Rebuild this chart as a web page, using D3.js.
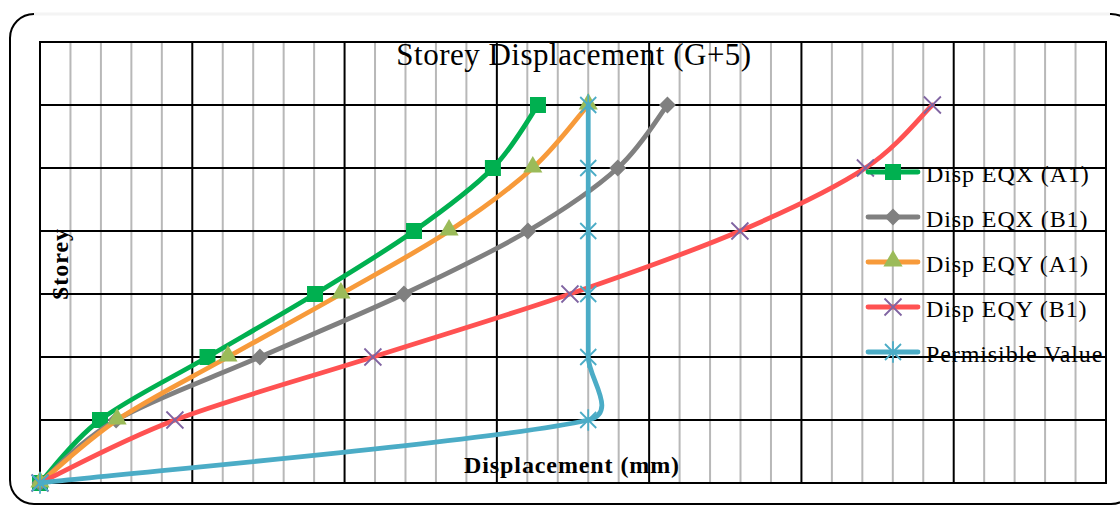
<!DOCTYPE html>
<html>
<head>
<meta charset="utf-8">
<script src="https://cdn.jsdelivr.net/npm/d3@7"></script>
<style>
  body { margin: 0; background: #fff; }
  svg { display: block; }
</style>
</head>
<body>
<div id="chart"></div>
<script>
// values (mm)
const storeys = [0, 1, 2, 3, 4, 5, 6];
const dispEqxA1 = [0, 1.97, 5.5, 9.03, 12.28, 14.87, 16.35];
const dispEqxB1 = [0, 2.5, 7.22, 11.95, 16.02, 18.97, 20.6];
const dispEqyA1 = [0, 2.53, 6.17, 9.88, 13.43, 16.18, 18.0];
const dispEqyB1 = [0, 4.43, 10.93, 17.4, 22.98, 27.1, 29.3];
const permissible = [0, 18, 18, 18, 18, 18, 18];
const seriesNames = ["Disp EQX (A1)", "Disp EQX (B1)", "Disp EQY (A1)", "Disp EQY (B1)", "Permisible Value"];
const majorTicks = [0, 5, 10, 15, 20, 25, 30, 35];
const minorTicks = [1, 2, 3, 4, 6, 7, 8, 9, 11, 12, 13, 14, 16, 17, 18, 19, 21, 22, 23, 24, 26, 27, 28, 29, 31, 32, 33, 34];
const storeyTicks = [0, 1, 2, 3, 4, 5, 6, 7];

const width = 1120, height = 505;
const margin = { top: 42, right: 14, bottom: 22, left: 40 };

const svg = d3.select("#chart").append("svg")
    .attr("width", width)
    .attr("height", height);

// outer rounded frame (top edge is very faint in the original)
svg.append("rect")
    .attr("x", 10).attr("y", 14)
    .attr("width", 1125).attr("height", 490)
    .attr("rx", 24)
    .attr("fill", "none")
    .attr("stroke", "#000")
    .attr("stroke-width", 2);
svg.append("line")
    .attr("x1", 34).attr("x2", 1110).attr("y1", 14).attr("y2", 14)
    .attr("stroke", "#f4f4f4").attr("stroke-width", 3);

const x = d3.scaleLinear().domain([0, 35]).range([margin.left, width - margin.right]);
const y = d3.scaleLinear().domain([0, 7]).range([height - margin.bottom, margin.top]);

// minor vertical grid
svg.append("g").attr("class", "minor")
    .selectAll("line")
    .data(minorTicks)
    .join("line")
    .attr("x1", (d) => x(d)).attr("x2", (d) => x(d))
    .attr("y1", y(0)).attr("y2", y(7))
    .attr("stroke", "#b8b8b8")
    .attr("stroke-width", 2);

// major grid
svg.append("g").attr("class", "major")
    .selectAll("line")
    .data(majorTicks)
    .join("line")
    .attr("x1", (d) => x(d)).attr("x2", (d) => x(d))
    .attr("y1", y(0)).attr("y2", y(7))
    .attr("stroke", "#000")
    .attr("stroke-width", 2);

svg.append("g").attr("class", "hgrid")
    .selectAll("line")
    .data(storeyTicks)
    .join("line")
    .attr("x1", x(0) - 1).attr("x2", x(35) + 1)
    .attr("y1", (d) => y(d)).attr("y2", (d) => y(d))
    .attr("stroke", "#000")
    .attr("stroke-width", 2);

// titles
svg.append("text")
    .attr("x", 574).attr("y", 65)
    .attr("text-anchor", "middle")
    .attr("font-family", "Liberation Serif")
    .attr("font-size", 31)
    .attr("letter-spacing", 0.5)
    .attr("fill", "#000")
    .text("Storey Displacement (G+5)");

svg.append("text")
    .attr("x", 572).attr("y", 473)
    .attr("text-anchor", "middle")
    .attr("font-family", "Liberation Serif")
    .attr("font-weight", "bold")
    .attr("font-size", 24)
    .attr("letter-spacing", 0.9)
    .attr("fill", "#000")
    .text("Displacement (mm)");

svg.append("text")
    .attr("transform", "translate(68,264) rotate(-90)")
    .attr("text-anchor", "middle")
    .attr("font-family", "Liberation Serif")
    .attr("font-weight", "bold")
    .attr("font-size", 24)
    .attr("letter-spacing", 1)
    .attr("fill", "#000")
    .text("Storey");

// marker shapes
const xPath = (s) => `M${-s},${-s}L${s},${s}M${-s},${s}L${s},${-s}`;
const starPath = (s) => `M${-s},${-s}L${s},${s}M${-s},${s}L${s},${-s}M0,${-s * 1.35}L0,${s * 1.35}`;
const diamondPath = (s) => `M0,${-s}L${s},0L0,${s}L${-s},0Z`;

const series = [
    { name: seriesNames[0], values: dispEqxA1, line: "#00b050", marker: "square", fill: "#00b050" },
    { name: seriesNames[1], values: dispEqxB1, line: "#808080", marker: "diamond", fill: "#808080" },
    { name: seriesNames[2], values: dispEqyA1, line: "#f79a3a", marker: "triangle", fill: "#9bbb59" },
    { name: seriesNames[3], values: dispEqyB1, line: "#ff5252", marker: "x", fill: "#8064a2" },
    { name: seriesNames[4], values: permissible, line: "#4bacc6", marker: "star", fill: "#4bacc6" }
];

function drawMarker(g, s, cx, cy) {
    if (s.marker === "square") {
        g.append("rect")
            .attr("x", cx - 8).attr("y", cy - 8)
            .attr("width", 16).attr("height", 16)
            .attr("fill", s.fill);
    } else if (s.marker === "diamond") {
        g.append("path")
            .attr("d", diamondPath(8.5))
            .attr("transform", `translate(${cx},${cy})`)
            .attr("fill", s.fill);
    } else if (s.marker === "triangle") {
        g.append("path")
            .attr("d", d3.symbol(d3.symbolTriangle, 160)())
            .attr("transform", `translate(${cx},${cy - 1})`)
            .attr("fill", s.fill);
    } else if (s.marker === "x") {
        g.append("path")
            .attr("d", xPath(8.5))
            .attr("transform", `translate(${cx},${cy})`)
            .attr("stroke", s.fill).attr("stroke-width", 1.8).attr("fill", "none");
    } else {
        g.append("path")
            .attr("d", starPath(8))
            .attr("transform", `translate(${cx},${cy})`)
            .attr("stroke", s.fill).attr("stroke-width", 1.8).attr("fill", "none");
    }
}

// Excel-like smoothing: catmull-rom tangents, arm clamped to half the segment
function smoothPath(pts) {
    const p = d3.path();
    const n = pts.length;
    const arm = (i, j) => {
        const a = pts[Math.max(i - 1, 0)], b = pts[Math.min(i + 1, n - 1)];
        let tx = (b[0] - a[0]) / 6, ty = (b[1] - a[1]) / 6;
        const seg = Math.hypot(pts[j][0] - pts[i][0], pts[j][1] - pts[i][1]);
        const len = Math.hypot(tx, ty);
        if (len > seg * 0.5 && len > 0) {
            tx *= seg * 0.5 / len;
            ty *= seg * 0.5 / len;
        }
        return [tx, ty];
    };
    p.moveTo(pts[0][0], pts[0][1]);
    for (let i = 0; i < n - 1; i++) {
        const t1 = arm(i, i + 1), t2 = arm(i + 1, i);
        p.bezierCurveTo(
            pts[i][0] + t1[0], pts[i][1] + t1[1],
            pts[i + 1][0] - t2[0], pts[i + 1][1] - t2[1],
            pts[i + 1][0], pts[i + 1][1]);
    }
    return p.toString();
}

series.forEach((s) => {
    const pts = storeys.map((st, i) => [x(s.values[i]), y(st)]);
    const g = svg.append("g");
    g.append("path")
        .attr("d", smoothPath(pts))
        .attr("fill", "none")
        .attr("stroke", s.line)
        .attr("stroke-width", 4.8)
        .attr("stroke-linecap", "round")
        .attr("stroke-linejoin", "round");
    pts.forEach((q) => drawMarker(g, s, q[0], q[1]));
});

// legend
const legend = svg.append("g");
series.forEach((s, i) => {
    const ly = 172 + i * 45;
    legend.append("line")
        .attr("x1", 868).attr("x2", 918)
        .attr("y1", ly).attr("y2", ly)
        .attr("stroke", s.line)
        .attr("stroke-width", 4.8)
        .attr("stroke-linecap", "round");
    drawMarker(legend, s, 893, ly);
    legend.append("text")
        .attr("x", 926).attr("y", ly + 10)
        .attr("font-family", "Liberation Serif")
        .attr("font-size", 24)
        .attr("letter-spacing", 0.9)
        .attr("fill", "#000")
        .text(s.name);
});
</script>
</body>
</html>
